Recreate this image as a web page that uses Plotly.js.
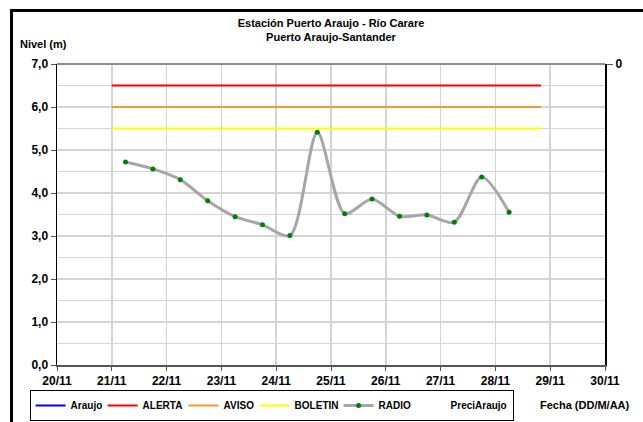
<!DOCTYPE html>
<html>
<head>
<meta charset="utf-8">
<script src="https://cdn.plot.ly/plotly-3.0.1.min.js"></script>
<style>
html,body{margin:0;padding:0;width:643px;height:422px;overflow:hidden;background:#fff;}
#chart{position:absolute;left:0;top:0;width:643px;height:422px;}
#frame{position:absolute;left:10px;top:9px;width:700px;height:500px;border-left:3px solid #000;border-top:3px solid #000;pointer-events:none;}
</style>
</head>
<body>
<div id="chart"></div>
<div id="frame"></div>
<script>
// Data
const radioDates = ['2010-11-21 06:00','2010-11-21 18:00','2010-11-22 06:00','2010-11-22 18:00',
  '2010-11-23 06:00','2010-11-23 18:00','2010-11-24 06:00','2010-11-24 18:00',
  '2010-11-25 06:00','2010-11-25 18:00','2010-11-26 06:00','2010-11-26 18:00',
  '2010-11-27 06:00','2010-11-27 18:00','2010-11-28 06:00'];
const radioLevels = [4.72,4.56,4.31,3.82,3.45,3.26,3.01,5.41,3.52,3.86,3.46,3.49,3.32,4.37,3.55];
const thresholdDates = ['2010-11-21 00:00','2010-11-28 20:00'];
const alerta = [6.5,6.5];
const aviso = [6.0,6.0];
const boletin = [5.5,5.5];
const xTickVals = ['2010-11-20','2010-11-21','2010-11-22','2010-11-23','2010-11-24','2010-11-25',
  '2010-11-26','2010-11-27','2010-11-28','2010-11-29','2010-11-30'];
const xTickText = ['20/11','21/11','22/11','23/11','24/11','25/11','26/11','27/11','28/11','29/11','30/11'];
const yTickVals = [0,1,2,3,4,5,6,7];
const yTickText = ['0,0','1,0','2,0','3,0','4,0','5,0','6,0','7,0'];

const F = 'Liberation Sans, Arial, sans-serif';
const bold = {family:F, size:11, color:'#000', weight:'bold'};
const tickBold = {family:F, size:12, color:'#000', weight:'bold'};

const traces = [
  {name:'Araujo', type:'scatter', mode:'lines', x:[thresholdDates[0]], y:[null], line:{color:'#0000ff', width:2}, legendwidth:27},
  {name:'ALERTA', type:'scatter', mode:'lines', x:thresholdDates, y:alerta, line:{color:'#ff0000', width:2}, legendwidth:36},
  {name:'AVISO', type:'scatter', mode:'lines', x:thresholdDates, y:aviso, line:{color:'#f29a2e', width:2}, legendwidth:26},
  {name:'BOLETIN', type:'scatter', mode:'lines', x:thresholdDates, y:boletin, line:{color:'#ffff00', width:2}, legendwidth:39},
  {name:'RADIO', type:'scatter', mode:'lines+markers', x:radioDates, y:radioLevels,
    line:{color:'#a6a6a6', width:3, shape:'spline', smoothing:0.8},
    marker:{color:'#008000', size:5}, legendwidth:27},
  {name:'PreciAraujo', type:'bar', x:[thresholdDates[0]], y:[null], yaxis:'y2',
    marker:{color:'rgba(255,255,255,0)', line:{width:0}}}
];

const layout = {
  width:643, height:422,
  margin:{l:57, r:38, t:64, b:57, autoexpand:false},
  paper_bgcolor:'#fff', plot_bgcolor:'#fff',
  separators:',.',
  font:bold,
  showlegend:true,
  title:{text:'Estación Puerto Araujo - Río Carare<br>Puerto Araujo-Santander',
    font:{family:F, size:11, color:'#000', weight:'bold'},
    xref:'paper', x:0.5, xanchor:'center', yref:'container', y:0.937, yanchor:'top'},
  xaxis:{type:'date', range:['2010-11-20','2010-11-30'], tickvals:xTickVals, ticktext:xTickText,
    showgrid:true, gridcolor:'#d4d4d4', gridwidth:1.5,
    showline:true, linecolor:'#555', linewidth:2,
    ticks:'outside', ticklen:4, tickcolor:'#555', tickfont:tickBold, zeroline:false, fixedrange:true},
  yaxis:{range:[0,7], tickvals:yTickVals, ticktext:yTickText,
    showgrid:true, gridcolor:'#d4d4d4', gridwidth:1.5,
    minor:{dtick:0.5, tick0:0, showgrid:true, gridcolor:'#d4d4d4', gridwidth:1.5, ticks:''},
    showline:true, linecolor:'#000', linewidth:1.5,
    ticks:'outside', ticklen:5, tickcolor:'#555', tickfont:tickBold, zeroline:false},
  yaxis2:{overlaying:'y', side:'right', range:[1,0], tickvals:[0], ticktext:['0'],
    showgrid:false, zeroline:false, showline:true, linecolor:'#000', linewidth:2,
    ticks:'outside', ticklen:6, tickcolor:'#555', tickfont:tickBold},
  legend:{orientation:'h', x:-0.05, xanchor:'left', y:-0.083, yanchor:'top',
    bordercolor:'#000', borderwidth:1, font:{family:F, size:10, color:'#000', weight:'bold'},
    itemwidth:30, tracegroupgap:0, bgcolor:'#fff'},
  shapes:[{type:'line', xref:'paper', yref:'paper', x0:0, x1:1, y0:1, y1:1,
    line:{color:'#8c8c8c', width:2}}],
  annotations:[
    {text:'Nivel (m)', xref:'paper', yref:'paper', x:-0.072, y:1.068, xanchor:'left', yanchor:'middle',
      showarrow:false, font:{family:F, size:11, color:'#000', weight:'bold'}},
    {text:'Fecha (DD/M/AA)', xref:'paper', yref:'paper', x:1.049, y:-0.133, xanchor:'right', yanchor:'middle',
      showarrow:false, font:{family:F, size:11, color:'#000', weight:'bold'}}
  ]
};

Plotly.newPlot('chart', traces, layout, {displayModeBar:false, staticPlot:true});
</script>
</body>
</html>
